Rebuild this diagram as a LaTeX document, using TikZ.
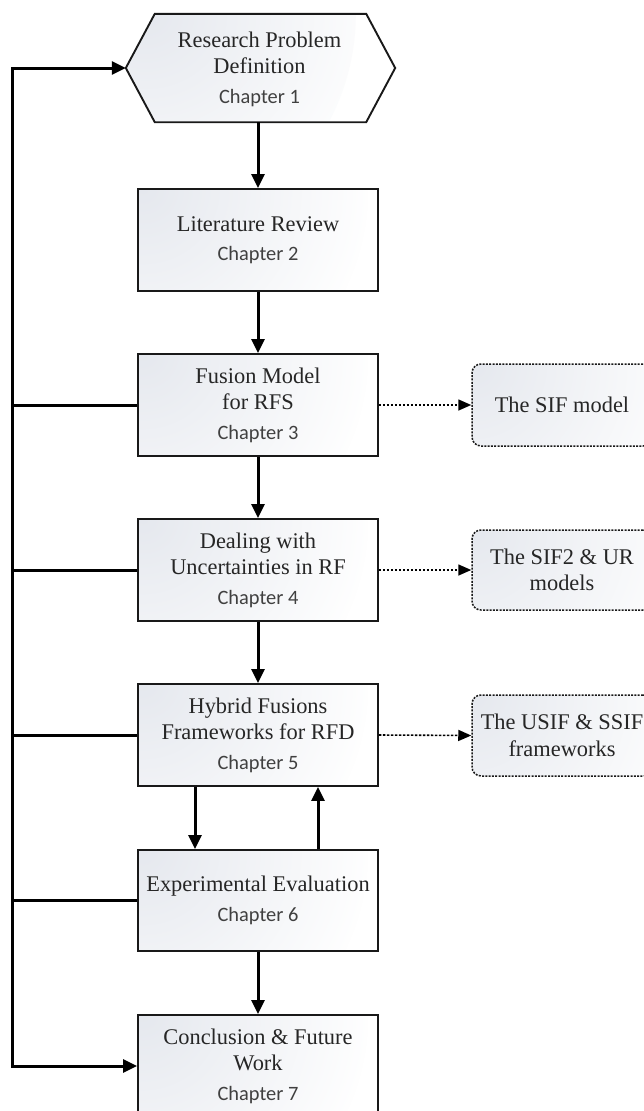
\documentclass[tikz,border=0pt]{standalone}
\usepackage{fontspec}
\setmainfont{Liberation Serif}
\newfontfamily\chapfont{Carlito}
\usetikzlibrary{arrows.meta,calc}

\definecolor{boxtint}{HTML}{E5E8EE}
\definecolor{titlegray}{HTML}{262626}
\definecolor{chapgray}{HTML}{404040}

\newcommand{\chap}[1]{{\chapfont\color{chapgray}\fontsize{20.4}{24}\selectfont Chapter #1}}

\tikzset{
  % soft tint spreading from the upper left corner of each box
  tinted/.style={fill=white, path picture={
      \shade[inner color=boxtint, outer color=white]
        (path picture bounding box.north west) circle (230pt);}},
  mainbox/.style={draw=black!90, line width=1.9pt, tinted, minimum width=240pt, minimum height=102pt,
    align=center, text=titlegray, font=\fontsize{22.4}{26.5}\selectfont, inner sep=0pt},
  sidebox/.style={draw=black!90, line width=1.5pt, dash pattern=on 2pt off 1.3pt, rounded corners=9pt,
    tinted, minimum width=180pt, minimum height=82pt, align=center, text=titlegray,
    font=\fontsize{22.4}{26.5}\selectfont, inner sep=0pt},
  conn/.style={line width=3pt, black},
  flow/.style={conn, -{Triangle[length=14pt,width=13pt]}},
  sidelink/.style={line width=1.6pt, black, dash pattern=on 2.4pt off 1.6pt,
    -{Triangle[length=13pt,width=11pt]}},
}

\begin{document}
\begin{tikzpicture}[x=1pt, y=-1pt]
  \useasboundingbox (0,0) rectangle (644,1111);
  \clip (0,0) rectangle (644,1111);

  % hexagon for the opening step
  \node[minimum width=269pt, minimum height=108pt, inner sep=0pt] (hex) at (260.5,68) {};
  \path[tinted, draw=black!90, line width=1.9pt]
    (hex.west) -- ([xshift=29pt]hex.north west) -- ([xshift=-29pt]hex.north east)
    -- (hex.east) -- ([xshift=-29pt]hex.south east) -- ([xshift=29pt]hex.south west) -- cycle;
  \node[align=center, text=titlegray, font=\fontsize{22.4}{26.5}\selectfont, inner sep=0pt] (hextext) at (259.5,69)
    {Research Problem\\Definition\\[3pt]\chap{1}};

  % chapter boxes
  \node[mainbox] (b2) at (258,240) {Literature Review\\[3pt]\chap{2}};
  \node[mainbox] (b3) at (258,405) {Fusion Model\\for RFS\\[3pt]\chap{3}};
  \node[mainbox] (b4) at (258,570) {Dealing with\\Uncertainties in RF\\[3pt]\chap{4}};
  \node[mainbox] (b5) at (258,735) {Hybrid Fusions\\Frameworks for RFD\\[3pt]\chap{5}};
  \node[mainbox, minimum height=101pt] (b6) at (258,900.5) {Experimental Evaluation\\[3pt]\chap{6}};
  \node[mainbox] (b7) at (258,1066) {Conclusion \& Future\\Work\\[3pt]\chap{7}};

  % outcome boxes
  \node[sidebox] (r3) at (562,405) {The SIF model};
  \node[sidebox, minimum height=80pt] (r4) at (562,570) {The SIF2 \& UR\\models};
  \node[sidebox, minimum height=81pt] (r5) at (562,735.5) {The USIF \& SSIF\\frameworks};

  % main flow
  \draw[flow] (hex.south -| b2.north) -- (b2.north);
  \draw[flow] (b2) -- (b3);
  \draw[flow] (b3) -- (b4);
  \draw[flow] (b4) -- (b5);
  \draw[flow] ([xshift=-63pt]b5.south) -- ([xshift=-63pt]b6.north);
  \draw[flow] ([xshift=60pt]b6.north) -- ([xshift=60pt]b5.south);
  \draw[flow] (b6) -- (b7);

  % feedback spine on the left
  \coordinate (L) at (12,0);
  \draw[conn, {Triangle[length=14pt,width=13pt]}-{Triangle[length=14pt,width=13pt]}]
    (hex.west) -- (hex.west -| L) -- (b7.west -| L) -- (b7.west);
  \draw[conn] (b3.west) -- (b3.west -| L);
  \draw[conn] (b4.west) -- (b4.west -| L);
  \draw[conn] (b5.west) -- (b5.west -| L);
  \draw[conn] (b6.west) -- (b6.west -| L);

  % outcomes
  \draw[sidelink] (b3.east) -- (r3.west);
  \draw[sidelink] (b4.east) -- (r4.west);
  \draw[sidelink] (b5.east) -- (r5.west);
\end{tikzpicture}
\end{document}
